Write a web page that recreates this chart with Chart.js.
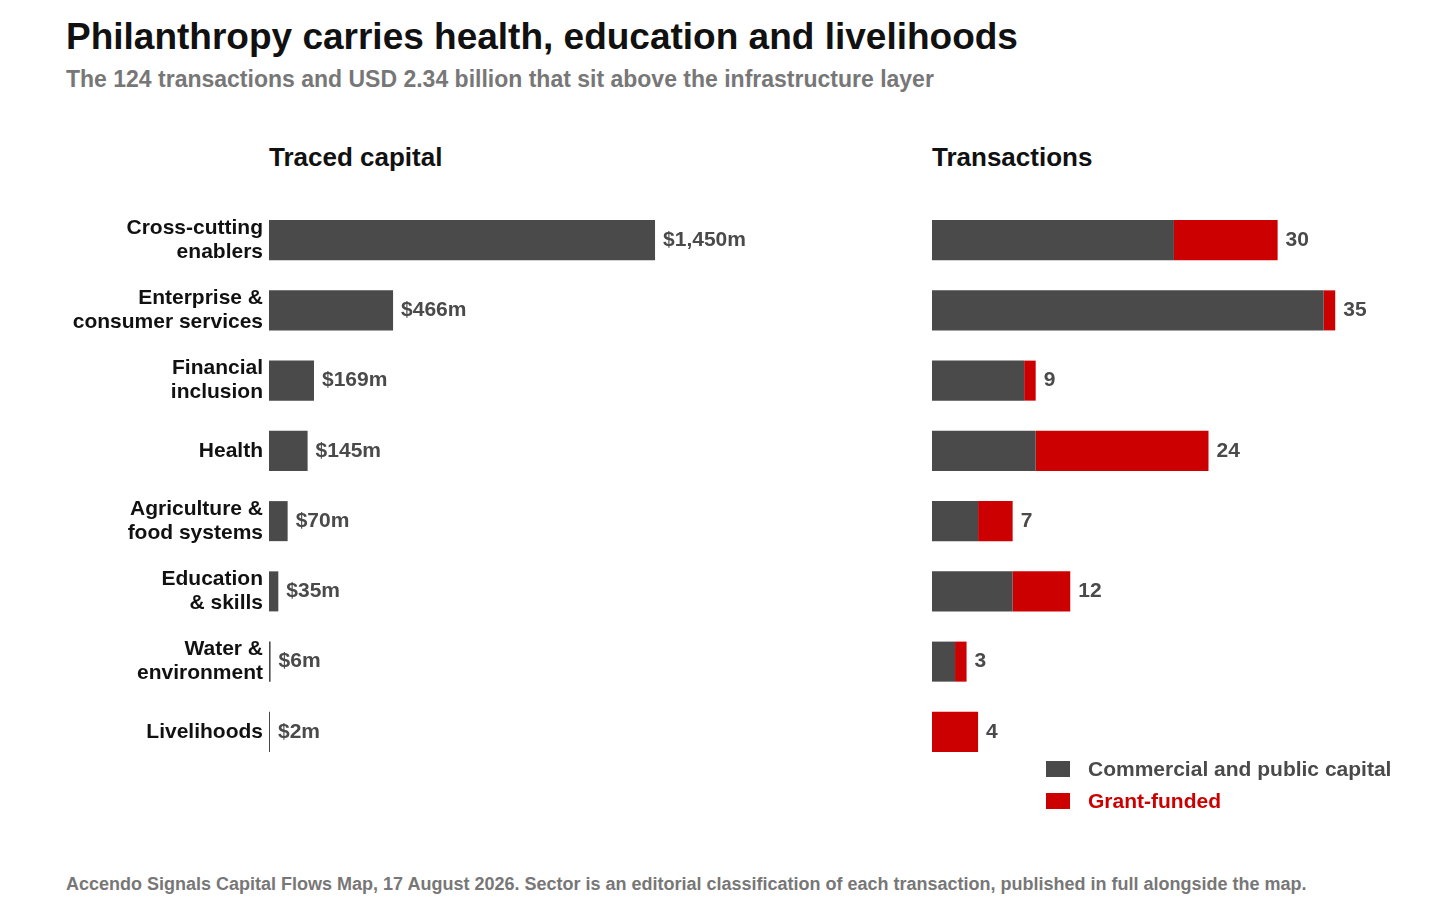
<!DOCTYPE html>
<html>
<head>
<meta charset="utf-8">
<script src="https://cdn.jsdelivr.net/npm/chart.js@4/dist/chart.umd.min.js"></script>
<style>
  body { margin: 0; width: 1455px; height: 922px; background: #fff; font-family: "Liberation Sans", Arial, sans-serif; position: relative; overflow: hidden; }
  .abs { position: absolute; }
  #title { left: 66px; top: 16px; font-size: 37px; font-weight: bold; color: #111; }
  #sub { left: 66px; top: 66px; font-size: 23px; font-weight: bold; color: #777; }
  .panel { top: 142px; font-size: 26px; font-weight: bold; color: #111; }
  #foot { left: 66px; top: 874px; font-size: 18px; font-weight: bold; color: #777; }
  .sw { width: 24px; height: 16px; }
  .lg { font-size: 21px; font-weight: bold; }
</style>
</head>
<body>
<div class="abs" id="title">Philanthropy carries health, education and livelihoods</div>
<div class="abs" id="sub">The 124 transactions and USD 2.34 billion that sit above the infrastructure layer</div>
<div class="abs panel" style="left:269px">Traced capital</div>
<div class="abs panel" style="left:932px">Transactions</div>
<div class="abs" style="left:0;top:205px;width:880px;height:562px"><canvas id="capChart"></canvas></div>
<div class="abs" style="left:932px;top:205px;width:500px;height:562px"><canvas id="txChart"></canvas></div>
<div class="abs sw" style="left:1046px;top:761px;background:#4a4a4a"></div>
<div class="abs lg" style="left:1088px;top:757px;color:#4a4a4a">Commercial and public capital</div>
<div class="abs sw" style="left:1046px;top:793px;background:#cc0000"></div>
<div class="abs lg" style="left:1088px;top:789px;color:#cc0000">Grant-funded</div>
<div class="abs" id="foot">Accendo Signals Capital Flows Map, 17 August 2026. Sector is an editorial classification of each transaction, published in full alongside the map.</div>
<script>
// Datos
const sectors = [
    ["Cross-cutting", "enablers"],
    ["Enterprise &", "consumer services"],
    ["Financial", "inclusion"],
    ["Health"],
    ["Agriculture &", "food systems"],
    ["Education", "& skills"],
    ["Water &", "environment"],
    ["Livelihoods"]
];
const capitalUSDm = [1450, 466, 169, 145, 70, 35, 6, 2];
const capitalLabels = ["$1,450m", "$466m", "$169m", "$145m", "$70m", "$35m", "$6m", "$2m"];
const commercialTx = [21, 34, 8, 9, 4, 7, 2, 0];
const grantTx = [9, 1, 1, 15, 3, 5, 1, 4];

const dark = "#4a4a4a";
const red = "#cc0000";
const font = "'Liberation Sans', Arial, sans-serif";

// Plugin para escribir los valores al final de las barras y las categorías
const endLabels = {
    id: 'endLabels',
    afterDatasetsDraw(chart, args, opts) {
        const ctx = chart.ctx;
        const last = chart.getDatasetMeta(chart.data.datasets.length - 1);
        ctx.save();
        ctx.font = "bold 21px " + font;
        ctx.fillStyle = dark;
        ctx.textBaseline = 'middle';
        last.data.forEach((bar, i) => {
            ctx.fillText(opts.labels[i], Math.max(bar.x, chart.chartArea.left) + 8, bar.y);
        });
        if (opts.categories) {
            ctx.fillStyle = "#111";
            ctx.textAlign = 'right';
            last.data.forEach((bar, i) => {
                const lines = opts.categories[i];
                lines.forEach((line, j) => {
                    ctx.fillText(line, chart.chartArea.left - 6, bar.y + (j - (lines.length - 1) / 2) * 24);
                });
            });
        }
        ctx.restore();
    }
};

const baseOptions = (max, labels, categories) => ({
    indexAxis: 'y',
    responsive: true,
    maintainAspectRatio: false,
    animation: false,
    layout: { padding: 0 },
    plugins: { legend: { display: false }, tooltip: { enabled: false }, endLabels: { labels, categories } },
    scales: {
        x: { display: false, min: 0, max: max, stacked: true },
        y: { stacked: true, grid: { display: false }, border: { display: false }, ticks: { display: false } }
    }
});

// Gráfico de capital
const capOpts = baseOptions(2295, capitalLabels, sectors);
capOpts.scales.y.afterFit = (axis) => { axis.width = 269; };
new Chart(document.getElementById('capChart'), {
    type: 'bar',
    data: {
        labels: sectors.map(s => s.join(' ')),
        datasets: [{ data: capitalUSDm, backgroundColor: dark, barPercentage: 1, categoryPercentage: 0.57, minBarLength: 1 }]
    },
    options: capOpts,
    plugins: [endLabels]
});

// Gráfico de transacciones
const totals = commercialTx.map((c, i) => String(c + grantTx[i]));
const txOpts = baseOptions(43.4, totals, null);
txOpts.scales.y.display = false;
new Chart(document.getElementById('txChart'), {
    type: 'bar',
    data: {
        labels: sectors.map(s => s.join(' ')),
        datasets: [
            { data: commercialTx, backgroundColor: dark, barPercentage: 1, categoryPercentage: 0.57 },
            { data: grantTx, backgroundColor: red, barPercentage: 1, categoryPercentage: 0.57 }
        ]
    },
    options: txOpts,
    plugins: [endLabels]
});
</script>
</body>
</html>
